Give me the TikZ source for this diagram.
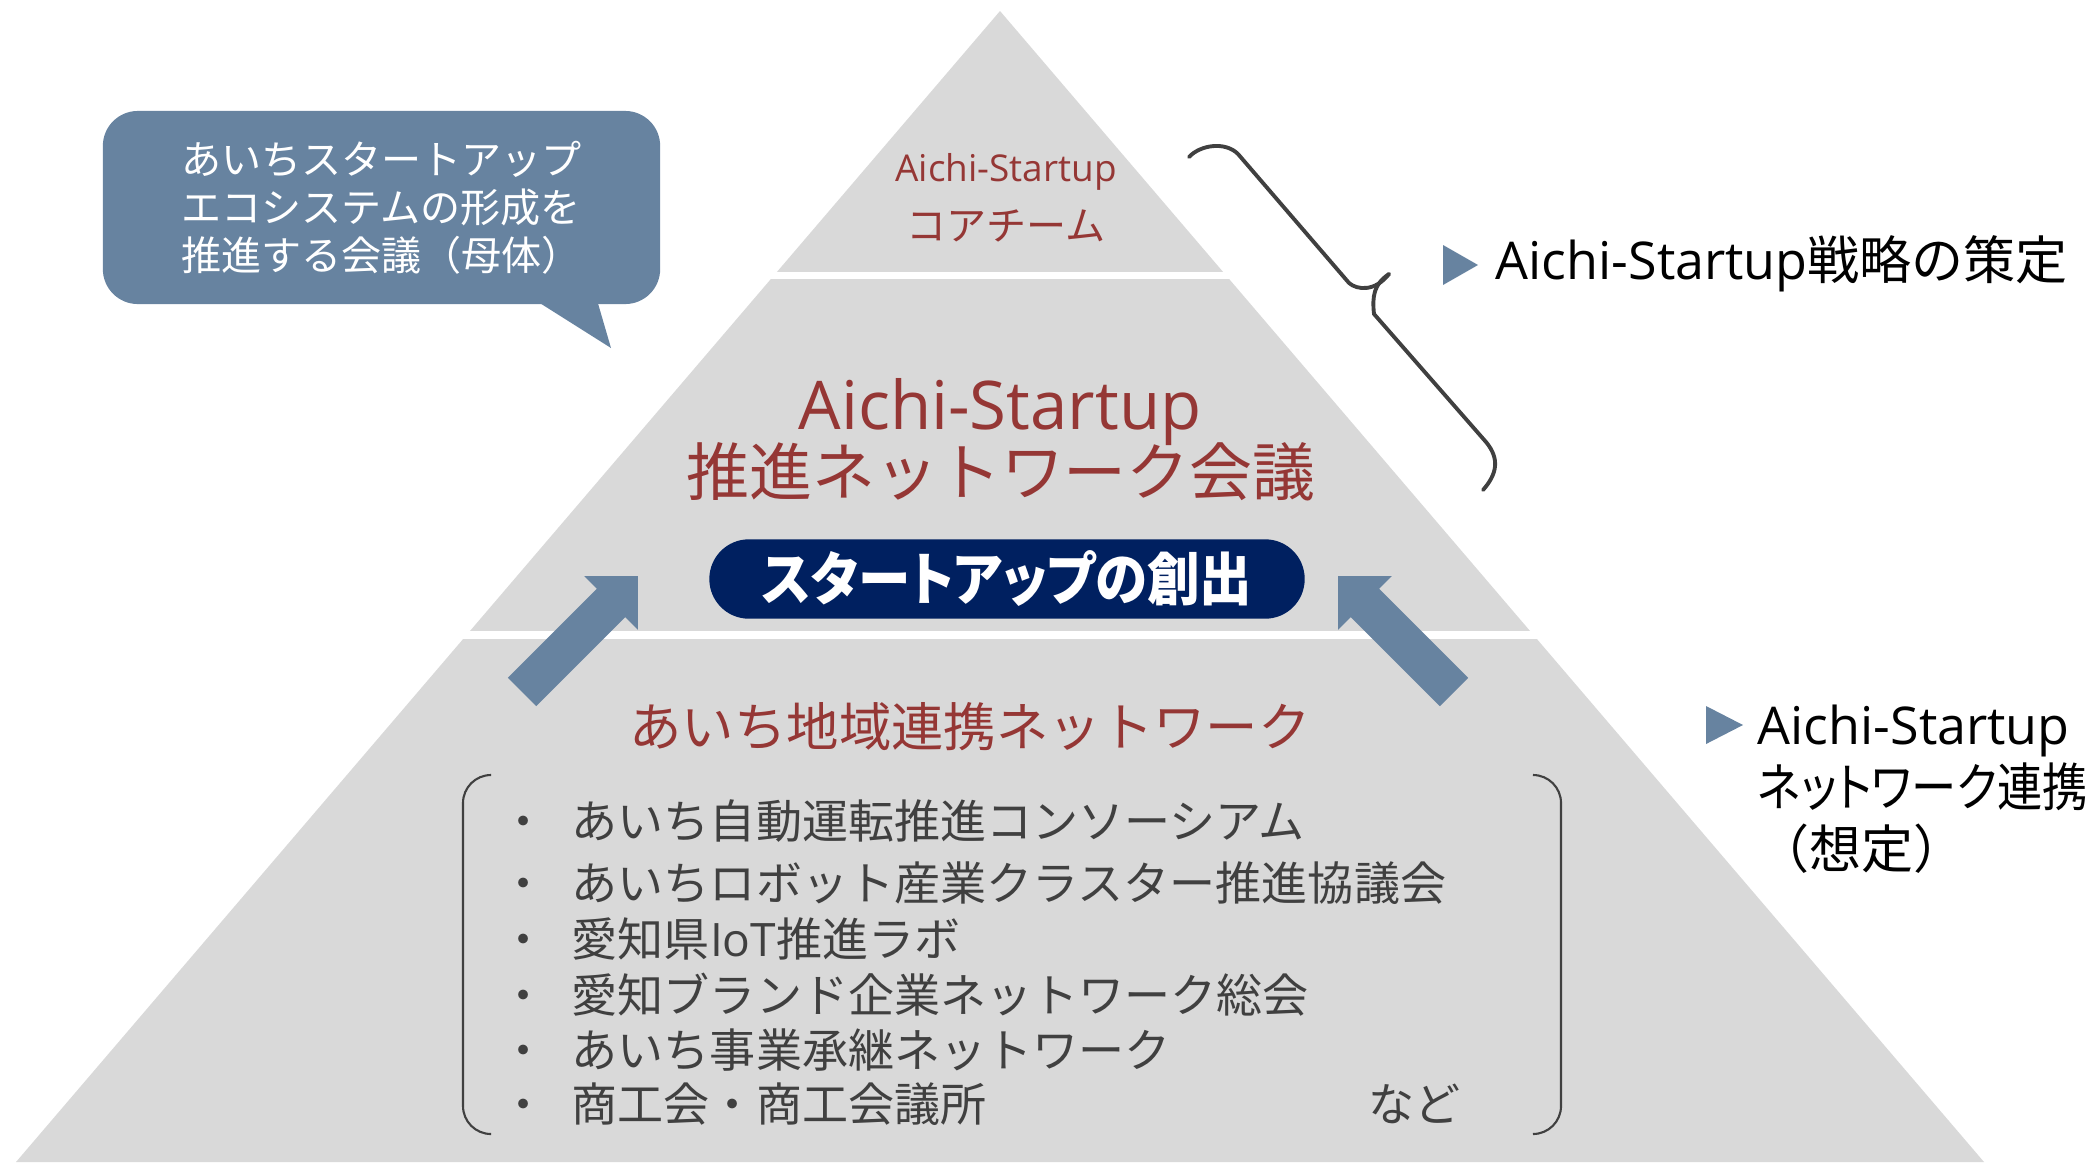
\documentclass[tikz,border=0pt]{standalone}
\usepackage{fontspec}
\setmainfont{Noto Sans CJK JP}
\newfontfamily\latinfont{Open Sans}
\newfontfamily\propfont{Noto Sans CJK JP}[RawFeature=+palt, FakeStretch=0.91]
\newfontfamily\condfont{Noto Sans CJK JP}[RawFeature=+palt, FakeStretch=0.87]
\newcommand\ltn[1]{{\latinfont #1}}
\usetikzlibrary{calc}
\definecolor{pyrgray}{HTML}{D9D9D9}
\definecolor{darkred}{HTML}{953735}
\definecolor{slate}{HTML}{6783A0}
\definecolor{navy}{HTML}{002060}
\definecolor{ink}{HTML}{404040}
\tikzset{
  redtext/.style={text=darkred, inner sep=0pt},
  itemtext/.style={text=ink, anchor=west, inner sep=0pt, font=\fontsize{13.1}{15}\selectfont},
  sidetext/.style={text=black, anchor=west, inner sep=0pt, font=\fontsize{14.8}{17.6}\selectfont},
  sidemark/.style={fill=slate},
  bracket/.style={ink, line width=0.6pt, rounded corners=0.28cm},
  brace/.style={ink, line width=1.1pt, line cap=round},
  upblock/.style={fill=slate},
}

\begin{document}
\begin{tikzpicture}[x=0.01cm, y=0.01cm]
	%%%%% START %%%%%
	\useasboundingbox (0,0) rectangle (2092,1162);
	
	% pyramid, cut in three bands
	\fill[pyrgray] (16,0) -- (1000,1151) -- (1984,0) -- cycle;
	\draw[white, line width=0.077cm] (0,886.5) -- (2092,886.5);
	\draw[white, line width=0.077cm] (0,527) -- (2092,527);
	
	\node[redtext, anchor=base, font=\latinfont\fontsize{10.5}{12}\selectfont] (coretag) at (1006,981) {Aichi-Startup};
	\node[redtext, font=\fontsize{11.4}{13}\selectfont] (core) at (1006,936) {コアチーム};
	
	\node[redtext, anchor=base, font=\latinfont\fontsize{19.1}{22}\selectfont] (promtag) at (1000,733) {Aichi-Startup};
	\node[redtext, font=\fontsize{17.9}{20}\selectfont] (prom) at (1001,690) {推進ネットワーク会議};
	
	\node[fill=navy, rounded corners=0.395cm, minimum width=5.95cm, minimum height=0.79cm, text=white, font=\propfont\bfseries\fontsize{16.4}{18}\selectfont] (pill) at (1007,583) {スタートアップの創出};
	
	\node[redtext, font=\fontsize{14.9}{17}\selectfont] (regional) at (970,435) {あいち地域連携ネットワーク};
	
	% member list
	\draw[bracket] (490,387) -- (463,387) -- (463,28) -- (490,28);
	\draw[bracket] (1533,387) -- (1561,387) -- (1561,28) -- (1533,28);
	\foreach \y/\txt [count=\i] in {341/あいち自動運転推進コンソーシアム, 279/あいちロボット産業クラスター推進協議会, 223/愛知県\ltn{IoT}推進ラボ, 167/愛知ブランド企業ネットワーク総会, 112/あいち事業承継ネットワーク, 58/商工会・商工会議所}
		\node[itemtext] (item\i) at (500,\y) {・\hspace{0.25cm}\txt};
	\node[itemtext, anchor=east] (etc) at (1461,58) {など};
	
	% block arrows
	\begin{scope}[shift={(580,528)}, rotate=45]
		\fill[upblock] (-82,-20) -- (44,-20) -- (44,-38) -- (82,0) -- (44,38) -- (44,20) -- (-82,20) -- cycle;
	\end{scope}
	\begin{scope}[shift={(1396,528)}, rotate=135]
		\fill[upblock] (-82,-20) -- (44,-20) -- (44,-38) -- (82,0) -- (44,38) -- (44,20) -- (-82,20) -- cycle;
	\end{scope}
	
	% callout
	\node[fill=slate, rounded corners=0.35cm, minimum width=5.57cm, minimum height=1.93cm, text=white, align=left, font=\fontsize{11.4}{13.7}\selectfont] (callout) at (381.5,954.5) {あいちスタートアップ\\エコシステムの形成を\\推進する会議（母体）};
	\fill[slate] (535,862) -- (611,814) -- (597,862) -- cycle;
	
	% brace
	\draw[brace] (1189,1005) .. controls (1200,1017) and (1225,1021) .. (1238,1008) -- (1349,879) .. controls (1357,872) and (1375,870) .. (1389,888);
	\draw[brace] (1389,888) .. controls (1374,878) and (1372,866) .. (1374,848) -- (1486,720) .. controls (1500,703) and (1497,688) .. (1483,672);
	
	% right side
	\fill[sidemark] (1443,917) -- (1478,897) -- (1443,877) -- cycle;
	\node[sidetext] (strategy) at (1495,898) {\ltn{Aichi-Startup}戦略の策定};
	
	\fill[sidemark] (1706,456) -- (1743,437) -- (1706,418) -- cycle;
	\node[sidetext, align=left] (netlink) at (1757,373) {\ltn{Aichi-Startup}\\{\condfont ネットワーク連携}\\（想定）};
	%%%%% END %%%%%
\end{tikzpicture}
\end{document}
